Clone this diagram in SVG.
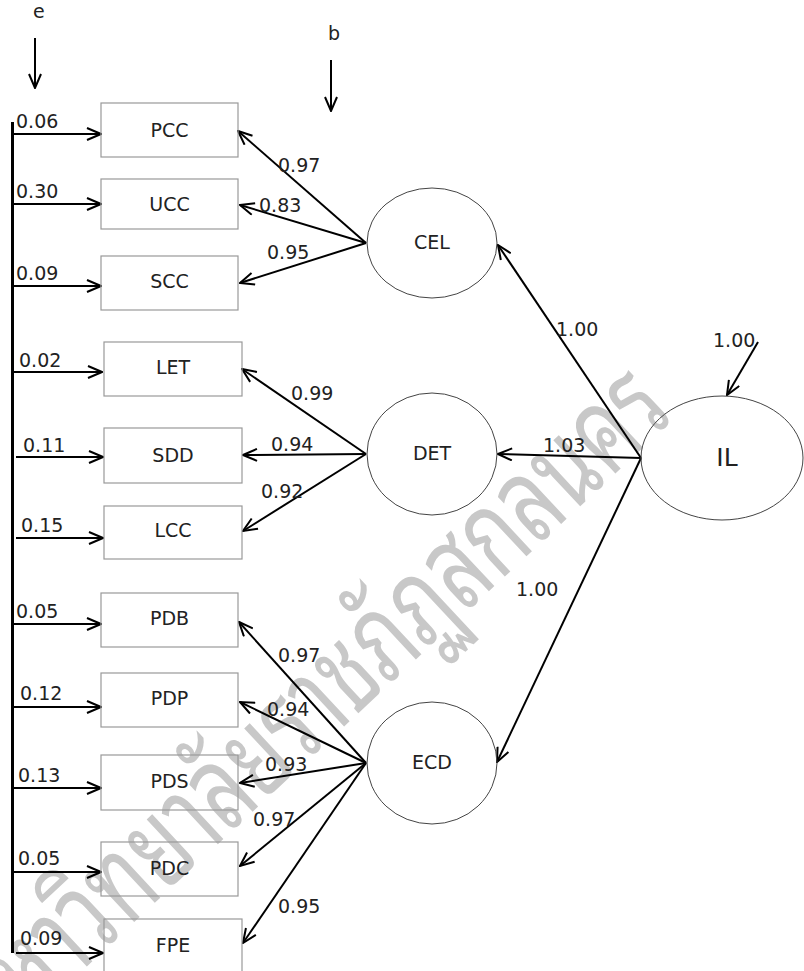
<svg xmlns="http://www.w3.org/2000/svg" width="804" height="971" viewBox="0 0 804 971">
<defs>
<marker id="ah" viewBox="0 0 16 14" refX="15" refY="7" markerWidth="16" markerHeight="14" orient="auto" markerUnits="userSpaceOnUse">
<path d="M1,1 L15,7 L1,13" fill="none" stroke="#000" stroke-width="2"/>
</marker>
<style>
text{font-family:"DejaVu Sans","Liberation Sans",sans-serif;fill:#222;}
.lbl{font-size:19px;}
.nt{font-size:19px;text-anchor:middle;}
.big{font-size:25px;text-anchor:middle;}
.box{fill:none;stroke:#999;stroke-width:1.2;}
.ell{fill:none;stroke:#444;stroke-width:1;}
.ar{stroke:#000;stroke-width:2;fill:none;marker-end:url(#ah);}
.wm{font-family:"Noto Sans Thai Looped","Noto Sans Thai","Noto Sans","DejaVu Sans",sans-serif;font-size:100px;font-weight:400;fill:#c8c8c8;text-anchor:end;}
</style>
</defs>
<rect width="804" height="971" fill="#fff"/>
<text class="wm" x="0" y="0" transform="translate(677 416) rotate(-43) scale(0.83 1.2)">มหาวิทยาลัยราชภัฏสกลนคร</text>

<g id="connectors">
<line x1="12.5" y1="122" x2="12.5" y2="953" stroke="#000" stroke-width="3"/>
<line class="ar" x1="35" y1="38" x2="35" y2="88"/>
<line class="ar" x1="331" y1="60" x2="331" y2="111"/>
<line class="ar" x1="13" y1="134" x2="101" y2="134"/>
<line class="ar" x1="13" y1="204" x2="101" y2="204"/>
<line class="ar" x1="13" y1="286" x2="101" y2="286"/>
<line class="ar" x1="13" y1="372" x2="102" y2="372"/>
<line class="ar" x1="16" y1="457" x2="103" y2="457"/>
<line class="ar" x1="16" y1="538" x2="103" y2="538"/>
<line class="ar" x1="13" y1="624" x2="101" y2="624"/>
<line class="ar" x1="13" y1="707" x2="101" y2="707"/>
<line class="ar" x1="13" y1="788" x2="101" y2="788"/>
<line class="ar" x1="13" y1="872" x2="101" y2="872"/>
<line class="ar" x1="16" y1="953" x2="103" y2="953"/>
<line class="ar" x1="366" y1="243" x2="238" y2="131"/>
<line class="ar" x1="366" y1="243" x2="240" y2="205"/>
<line class="ar" x1="366" y1="243" x2="240" y2="283"/>
<line class="ar" x1="366" y1="454" x2="242" y2="369"/>
<line class="ar" x1="366" y1="454" x2="243" y2="455"/>
<line class="ar" x1="366" y1="454" x2="243" y2="531"/>
<line class="ar" x1="366" y1="763" x2="239" y2="622"/>
<line class="ar" x1="366" y1="763" x2="240" y2="702"/>
<line class="ar" x1="366" y1="763" x2="240" y2="783"/>
<line class="ar" x1="366" y1="763" x2="240" y2="866"/>
<line class="ar" x1="366" y1="763" x2="243" y2="943"/>
<line class="ar" x1="641" y1="458" x2="498" y2="245"/>
<line class="ar" x1="641" y1="458" x2="498" y2="454"/>
<line class="ar" x1="641" y1="458" x2="497" y2="762"/>
<line class="ar" x1="758" y1="342" x2="727" y2="395"/>
</g>

<g id="labels">
<text class="lbl" x="33" y="18">e</text>
<text class="lbl" x="328" y="40">b</text>
<text class="lbl" x="16" y="128">0.06</text>
<text class="lbl" x="16" y="198">0.30</text>
<text class="lbl" x="16" y="280">0.09</text>
<text class="lbl" x="19" y="367">0.02</text>
<text class="lbl" x="23" y="452">0.11</text>
<text class="lbl" x="21" y="532">0.15</text>
<text class="lbl" x="16" y="618">0.05</text>
<text class="lbl" x="20" y="700">0.12</text>
<text class="lbl" x="18" y="782">0.13</text>
<text class="lbl" x="18" y="865">0.05</text>
<text class="lbl" x="20" y="945">0.09</text>
<text class="lbl" x="278" y="172">0.97</text>
<text class="lbl" x="259" y="212">0.83</text>
<text class="lbl" x="267" y="259">0.95</text>
<text class="lbl" x="291" y="400">0.99</text>
<text class="lbl" x="271" y="451">0.94</text>
<text class="lbl" x="261" y="498">0.92</text>
<text class="lbl" x="278" y="662">0.97</text>
<text class="lbl" x="267" y="716">0.94</text>
<text class="lbl" x="265" y="771">0.93</text>
<text class="lbl" x="253" y="826">0.97</text>
<text class="lbl" x="278" y="913">0.95</text>
<text class="lbl" x="556" y="336">1.00</text>
<text class="lbl" x="543" y="452">1.03</text>
<text class="lbl" x="516" y="596">1.00</text>
<text class="lbl" x="713" y="347">1.00</text>
</g>

<g id="PCC"><rect class="box" x="101" y="103" width="137" height="54"/><text class="nt" x="169.5" y="137">PCC</text></g>
<g id="UCC"><rect class="box" x="101" y="179" width="137" height="50"/><text class="nt" x="169.5" y="211">UCC</text></g>
<g id="SCC"><rect class="box" x="101" y="256" width="137" height="54"/><text class="nt" x="169.5" y="288">SCC</text></g>
<g id="LET"><rect class="box" x="104" y="342" width="138" height="54"/><text class="nt" x="173" y="374">LET</text></g>
<g id="SDD"><rect class="box" x="104" y="428" width="138" height="55"/><text class="nt" x="173" y="462">SDD</text></g>
<g id="LCC"><rect class="box" x="104" y="506" width="138" height="53"/><text class="nt" x="173" y="537">LCC</text></g>
<g id="PDB"><rect class="box" x="101" y="593" width="137" height="54"/><text class="nt" x="169.5" y="625">PDB</text></g>
<g id="PDP"><rect class="box" x="101" y="673" width="137" height="54"/><text class="nt" x="169.5" y="705">PDP</text></g>
<g id="PDS"><rect class="box" x="101" y="755" width="137" height="55"/><text class="nt" x="169.5" y="788">PDS</text></g>
<g id="PDC"><rect class="box" x="101" y="842" width="137" height="54"/><text class="nt" x="169.5" y="875">PDC</text></g>
<g id="FPE"><rect class="box" x="104" y="919" width="138" height="62"/><text class="nt" x="173" y="952">FPE</text></g>

<g id="CEL"><ellipse class="ell" cx="432" cy="243" rx="65" ry="55"/><text class="nt" x="432" y="249">CEL</text></g>
<g id="DET"><ellipse class="ell" cx="432" cy="454" rx="65" ry="61"/><text class="nt" x="432" y="460">DET</text></g>
<g id="ECD"><ellipse class="ell" cx="432" cy="763" rx="65" ry="61"/><text class="nt" x="432" y="769">ECD</text></g>
<g id="IL"><ellipse class="ell" cx="722" cy="458" rx="81" ry="62"/><text class="big" x="727" y="466">IL</text></g>
</svg>
